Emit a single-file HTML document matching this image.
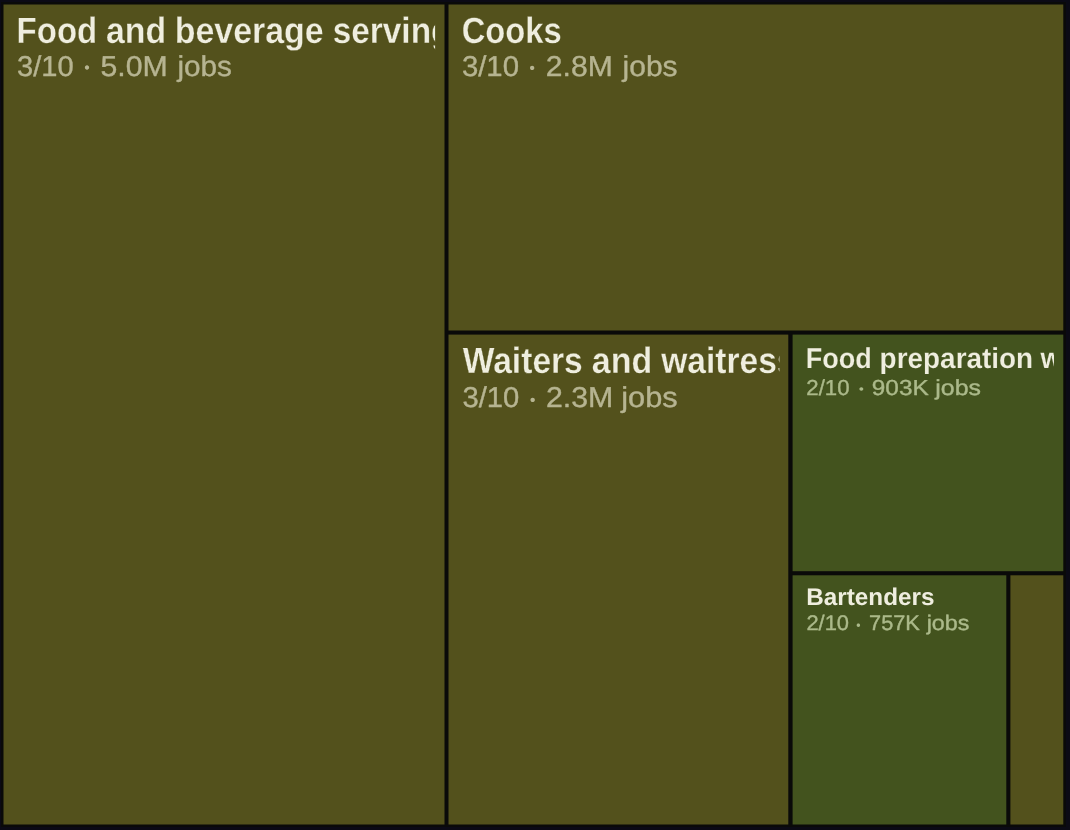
<!DOCTYPE html>
<html>
<head>
<meta charset="utf-8">
<title>Food service occupations treemap</title>
<style>
html,body{margin:0;padding:0;background:#0b0a15;width:1070px;height:830px;overflow:hidden;}
svg{display:block;text-rendering:geometricPrecision;}
text{font-family:"Liberation Sans",Arial,sans-serif;}
.t{font-weight:700;fill:#efeedf;}
.s{font-weight:400;fill:#b6b491;}
.t{stroke-width:0.7px;paint-order:normal;stroke-linejoin:round;} g.o .t{stroke:#53511c;} g.g .t{stroke:#43531e;} .s{stroke-width:0.4px;stroke-linejoin:round;} g.o .s{fill:#b6b491;stroke:#b6b491;} g.g .s{fill:#abb98a;stroke:#abb98a;} .dot{font-family:"Noto Sans CJK JP","Liberation Sans",sans-serif;stroke:none !important;}
</style>
</head>
<body>
<svg width="1070" height="830" viewBox="0 0 1070 830">
<defs>
<clipPath id="cA"><rect x="3.5" y="4.5" width="431.6" height="820"/></clipPath>
<clipPath id="cB"><rect x="448.5" y="4.5" width="605.3" height="326"/></clipPath>
<clipPath id="cC"><rect x="448.5" y="334.6" width="330.9" height="489.9"/></clipPath>
<clipPath id="cD"><rect x="792.6" y="334.6" width="261.4" height="236.6"/></clipPath>
<clipPath id="cE"><rect x="792.6" y="575.3" width="204.2" height="249.2"/></clipPath>
</defs>
<rect x="1" y="2" width="1065" height="825" fill="#0a0a09"/>
<rect class="cell o" x="3.5" y="4.5" width="441" height="820" fill="#53511c"/>
<rect class="cell o" x="448.5" y="4.5" width="614.8" height="326" fill="#53511c"/>
<rect class="cell o" x="448.5" y="334.6" width="339.8" height="489.9" fill="#53511c"/>
<rect class="cell g" x="792.6" y="334.6" width="270.7" height="236.6" fill="#43531e"/>
<rect class="cell g" x="792.6" y="575.3" width="213.7" height="249.2" fill="#43531e"/>
<rect class="cell o" x="1010.4" y="575.3" width="52.9" height="249.2" fill="#53511c"/>
<g class="o" clip-path="url(#cA)">
<text class="t" style="stroke-width:0.3px" transform="translate(16.59 42.5) scale(0.9041 1)" font-size="36.5">Food</text>
<text class="t" style="stroke-width:0.3px" transform="translate(106.02 42.5) scale(0.9264 1)" font-size="36.5">and</text>
<text class="t" style="stroke-width:0.3px" transform="translate(174.65 42.5) scale(0.9300 1)" font-size="36.5">beverage</text>
<text class="t" style="stroke-width:0.3px" transform="translate(332.67 42.5) scale(0.9146 1)" font-size="36.5">serving workers</text>
<text class="s" transform="translate(17.05 76.1) scale(1.0135 1)" font-size="28.7">3/10</text>
<text class="s dot" transform="translate(78.15 79.36) scale(0.9918 1)" font-size="31.86">·</text>
<text class="s" transform="translate(100.49 76.1) scale(1.0539 1)" font-size="28.7">5.0M</text>
<text class="s" transform="translate(177.48 76.1) scale(1.0353 1)" font-size="28.7">jobs</text>
</g>
<g class="o" clip-path="url(#cB)">
<text class="t" style="stroke-width:0.3px" transform="translate(461.64 43) scale(0.8971 1)" font-size="36.5">Cooks</text>
<text class="s" transform="translate(461.88 76.1) scale(1.0228 1)" font-size="28.7">3/10</text>
<text class="s dot" transform="translate(523.31 78.63) scale(1.0506 1)" font-size="30.61">·</text>
<text class="s" transform="translate(545.83 76.1) scale(1.0484 1)" font-size="28.7">2.8M</text>
<text class="s" transform="translate(622.59 76.1) scale(1.0453 1)" font-size="28.7">jobs</text>
</g>
<g class="o" clip-path="url(#cC)">
<text class="t" style="stroke-width:0.3px" transform="translate(462.75 373.45) scale(0.9199 1)" font-size="36.5">Waiters</text>
<text class="t" style="stroke-width:0.3px" transform="translate(591.75 373.45) scale(0.9321 1)" font-size="36.5">and</text>
<text class="t" style="stroke-width:0.3px" transform="translate(661.19 373.45) scale(0.9192 1)" font-size="36.5">waitresses</text>
<text class="s" transform="translate(462.43 407.15) scale(1.0185 1)" font-size="28.7">3/10</text>
<text class="s dot" transform="translate(523.54 410.71) scale(1.0822 1)" font-size="30.55">·</text>
<text class="s" transform="translate(545.91 407.15) scale(1.0559 1)" font-size="28.7">2.3M</text>
<text class="s" transform="translate(621.28 407.15) scale(1.0722 1)" font-size="28.7">jobs</text>
</g>
<g class="g" clip-path="url(#cD)">
<text class="t" style="stroke-width:0.15px" transform="translate(805.67 368) scale(0.9427 1)" font-size="28.7">Food</text>
<text class="t" style="stroke-width:0.15px" transform="translate(879.61 368) scale(0.9731 1)" font-size="28.7">preparation</text>
<text class="t" style="stroke-width:0.15px" transform="translate(1040.6 368) scale(0.9731 1)" font-size="28.7">workers</text>
<text class="s" transform="translate(806.34 395.05) scale(1.0230 1)" font-size="21.7">2/10</text>
<text class="s dot" transform="translate(853.26 398.27) scale(1.1840 1)" font-size="24.68">·</text>
<text class="s" transform="translate(871.85 395.05) scale(1.1213 1)" font-size="21.7">903K</text>
<text class="s" transform="translate(935.31 395.05) scale(1.1476 1)" font-size="21.7">jobs</text>
</g>
<g class="g" clip-path="url(#cE)">
<text class="t" style="stroke-width:0px" transform="translate(806.32 604.5) scale(1.0113 1)" font-size="24">Bartenders</text>
<text class="s" transform="translate(806.41 629.85) scale(1.0376 1)" font-size="21.1">2/10</text>
<text class="s dot" transform="translate(851.32 634.12) scale(1.0682 1)" font-size="24.07">·</text>
<text class="s" transform="translate(869.1 629.85) scale(1.0301 1)" font-size="21.1">757K</text>
<text class="s" transform="translate(926.63 629.85) scale(1.1032 1)" font-size="21.1">jobs</text>
</g>
</svg>
</body>
</html>
